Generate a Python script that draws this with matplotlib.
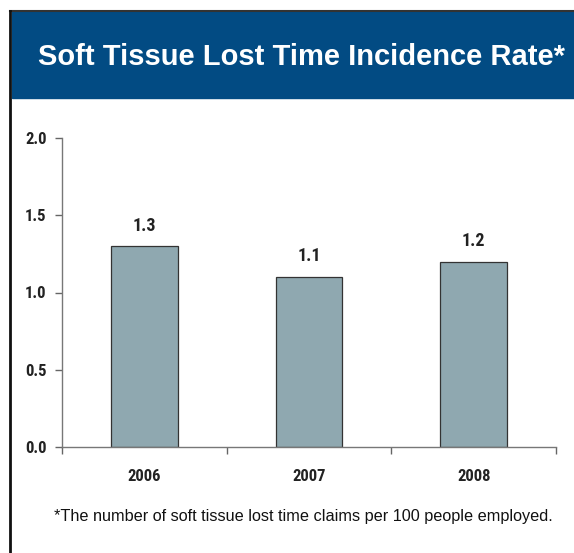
import matplotlib
matplotlib.use("Agg")
import matplotlib.pyplot as plt
from matplotlib.patches import Rectangle
from matplotlib.lines import Line2D

years = ["2006", "2007", "2008"]
rates = [1.3, 1.1, 1.2]
yticks = [0.0, 0.5, 1.0, 1.5, 2.0]
title = "Soft Tissue Lost Time Incidence Rate*"
note = "*The number of soft tissue lost time claims per 100 people employed."

W, H = 574, 553
narrow = ["Roboto Condensed", "Liberation Sans", "DejaVu Sans"]
plain = ["Liberation Sans", "DejaVu Sans"]

fig = plt.figure(figsize=(W / 100, H / 100), dpi=100)
fig.patch.set_facecolor("white")

# blue header band with frame lines
fig.add_artist(Rectangle((12 / W, 1 - 98 / H), 1, 87 / H,
                         transform=fig.transFigure, color="#024b83", zorder=0))
fig.add_artist(Line2D([10 / W, 1], [1 - 11 / H] * 2, transform=fig.transFigure,
                      color="#333333", lw=1.5))
fig.add_artist(Line2D([10 / W] * 2, [0, 1 - 11 / H], transform=fig.transFigure,
                      color="#111111", lw=2))
fig.text(301 / W, 1 - 57 / H, title, color="white", fontsize=21,
         fontweight="bold", family=plain, ha="center", va="center")

ax = fig.add_axes([62 / W, (H - 447) / H, (556 - 62) / W, (447 - 138) / H])
x = list(range(len(years)))
bars = ax.bar(x, rates, width=0.405, color="#8fa8b0", edgecolor="#333333",
              linewidth=0.9, zorder=2)
for xi, v in zip(x, rates):
    ax.text(xi, v + 0.075, f"{v:.1f}", ha="center", va="bottom",
            fontsize=13, fontweight="bold", family=narrow, color="#222222")

ax.set_xlim(-0.5, len(years) - 0.5)
ax.set_ylim(0, 2.0)
ax.set_yticks(yticks)
ax.set_yticklabels([f"{t:.1f}" for t in yticks])
ax.set_xticks([i - 0.5 for i in range(len(years) + 1)])
ax.set_xticklabels([])
ax.set_xticks(x, minor=True)
ax.set_xticklabels(years, minor=True)
ax.tick_params(axis="x", which="major", length=5, width=1, color="#666666",
               direction="out")
ax.tick_params(axis="x", which="minor", length=0, pad=16)
ax.tick_params(axis="y", length=5, width=1, color="#666666", pad=6)
for lab in ax.get_xticklabels(minor=True) + ax.get_yticklabels():
    lab.set_fontweight("bold")
    lab.set_fontsize(12)
    lab.set_family(narrow)
    lab.set_color("#222222")
for side in ("top", "right"):
    ax.spines[side].set_visible(False)
for side in ("left", "bottom"):
    ax.spines[side].set_color("#777777")
    ax.spines[side].set_linewidth(1)

fig.text(303 / W, 1 - 517 / H, note, fontsize=11.7, family=plain,
         color="#111111", ha="center", va="center")

fig.savefig("out.png", dpi=100)
